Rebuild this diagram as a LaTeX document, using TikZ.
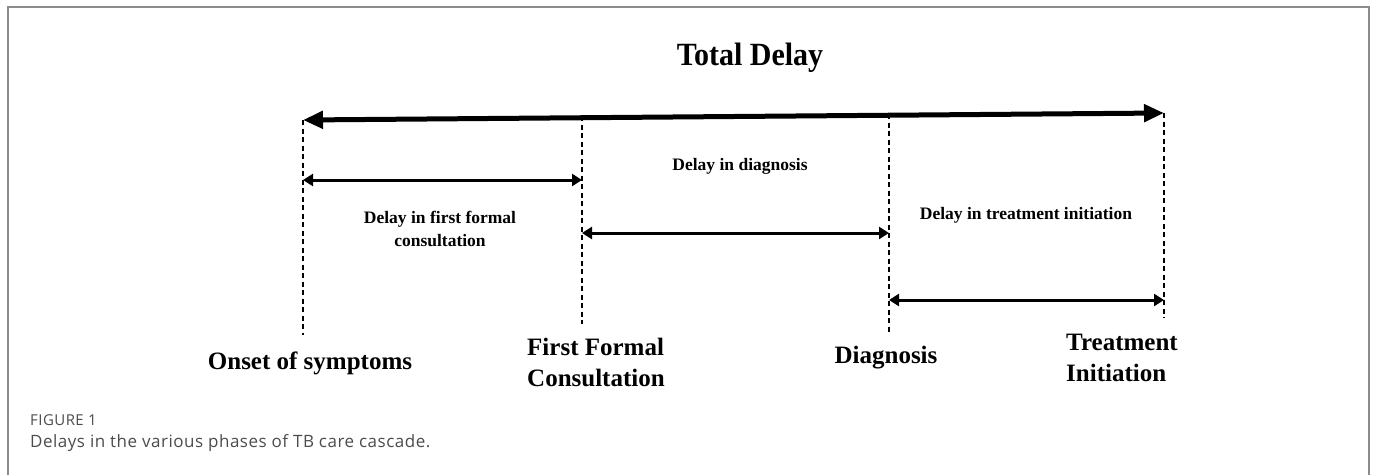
\documentclass[tikz,border=0pt]{standalone}
\usepackage{fontspec}
\setmainfont{Liberation Serif}
\newfontfamily\capfont[LetterSpace=3]{Open Sans}
\usetikzlibrary{arrows.meta}
\begin{document}
\begin{tikzpicture}[x=1pt,y=-1pt,
  framestyle/.style={draw=black!45, line width=2pt},
  tickline/.style={line width=2.2pt, dash pattern=on 5pt off 3.5pt},
  bigarrow/.style={line width=5pt, {Triangle[length=20pt,width=17pt]}-{Triangle[length=20pt,width=17pt]}},
  smallarrow/.style={line width=3pt, {Triangle[length=10pt,width=12pt]}-{Triangle[length=10pt,width=12pt]}},
  titletext/.style={font=\fontsize{30}{36}\selectfont\bfseries, anchor=base, inner sep=0pt},
  eventtext/.style={font=\fontsize{25}{31}\selectfont\bfseries, inner sep=0pt},
  delaytext/.style={font=\fontsize{17.5}{23}\selectfont\bfseries, inner sep=0pt},
  captext/.style={text=black!70, anchor=base west, inner sep=0pt}
]
\useasboundingbox (0,0) rectangle (1375,475);
\fill[white] (0,0) rectangle (1375,475);
\draw[framestyle] (8,475) -- (8,7) -- (1369,7) -- (1369,475);

% event coordinates on the total-delay line
\coordinate (e1) at (303,120);
\coordinate (e2) at (582,116);
\coordinate (e3) at (889,114);
\coordinate (e4) at (1164,113);
% lower ends of the dashed markers
\coordinate (b1) at (303,335);
\coordinate (b2) at (582,324);
\coordinate (b3) at (889,332);
\coordinate (b4) at (1164,318);

\draw[tickline] (e1) -- (b1);
\draw[tickline] (e2) -- (b2);
\draw[tickline] (e3) -- (b3);
\draw[tickline] (e4) -- (b4);

\draw[bigarrow] (e1) -- (e4);

% phase arrows
\coordinate (a1l) at (303,180);
\coordinate (a1r) at (582,180);
\coordinate (a2l) at (582,233);
\coordinate (a2r) at (889,233);
\coordinate (a3l) at (889,300);
\coordinate (a3r) at (1164,300);
\draw[smallarrow] (a1l) -- (a1r);
\draw[smallarrow] (a2l) -- (a2r);
\draw[smallarrow] (a3l) -- (a3r);

\node[titletext] (title) at (750,65) {\scalebox{1}[1.08]{Total Delay}};

\node[delaytext, anchor=base] (d1) at (440,223) {\begin{tabular}[t]{@{}c@{}}Delay in first formal\\consultation\end{tabular}};
\node[delaytext, anchor=base] (d2) at (740,170) {Delay in diagnosis};
\node[delaytext, anchor=base] (d3) at (1026,219) {Delay in treatment initiation};

\node[eventtext, anchor=base] (onset) at (310,369) {Onset of symptoms};
\node[eventtext, anchor=base west] (ffc) at (527,355) {\begin{tabular}[t]{@{}l@{}}First Formal\\Consultation\end{tabular}};
\node[eventtext, anchor=base] (diag) at (886,363) {Diagnosis};
\node[eventtext, anchor=base west] (treat) at (1066,350) {\begin{tabular}[t]{@{}l@{}}Treatment\\Initiation\end{tabular}};

\node[captext, font=\capfont\fontsize{15}{18}\selectfont] (fig) at (30,425) {FIGURE 1};
\node[captext, font=\capfont\fontsize{17}{20}\selectfont] (cap) at (30,447) {Delays in the various phases of TB care cascade.};
\end{tikzpicture}
\end{document}
